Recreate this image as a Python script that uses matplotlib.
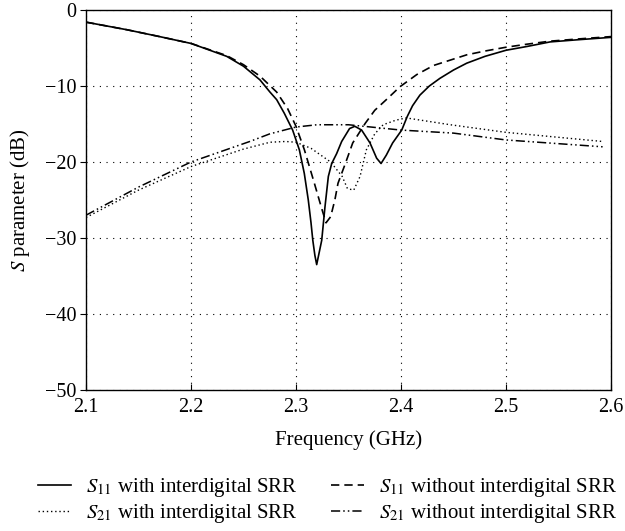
import matplotlib
matplotlib.use('Agg')
import matplotlib.pyplot as plt

plt.rcParams['font.family'] = ['Liberation Serif', 'DejaVu Serif']
plt.rcParams['mathtext.fontset'] = 'stix'

# S11 with interdigital SRR (solid)
f_s11_with = [2.10, 2.139, 2.170, 2.20, 2.234, 2.25, 2.2657, 2.2752, 2.2816, 2.2889,
              2.2968, 2.3032, 2.3079, 2.3117, 2.3143, 2.316, 2.318, 2.3197, 2.3215,
              2.3245, 2.3276, 2.3308, 2.334, 2.3387, 2.3435, 2.351, 2.356, 2.3625,
              2.3705, 2.3768, 2.381, 2.386, 2.392, 2.4007, 2.406, 2.411, 2.418, 2.427,
              2.437, 2.45, 2.4626, 2.48, 2.50, 2.52, 2.542, 2.57, 2.60]
s11_with = [-1.6, -2.6, -3.5, -4.4, -6.1, -7.4, -9.2, -10.8, -11.8, -13.6,
            -15.8, -18.4, -21.5, -25.0, -28.0, -30.3, -32.3, -33.5, -32.3,
            -30.3, -25.9, -21.9, -20.2, -18.9, -17.3, -15.6, -15.3, -15.8,
            -17.5, -19.5, -20.2, -19.1, -17.5, -15.8, -14.0, -12.6, -11.2, -10.0,
            -9.0, -7.9, -7.0, -6.1, -5.3, -4.8, -4.2, -3.9, -3.6]

# S11 without interdigital SRR (dashed)
f_s11_wo = [2.10, 2.139, 2.170, 2.20, 2.234, 2.25, 2.2657, 2.2816, 2.2921, 2.300,
            2.308, 2.3175, 2.324, 2.3286, 2.333, 2.337, 2.34, 2.347, 2.354, 2.366,
            2.375, 2.386, 2.399, 2.415, 2.431, 2.4626, 2.48, 2.50, 2.52, 2.542, 2.57, 2.60]
s11_wo = [-1.6, -2.6, -3.5, -4.4, -6.0, -7.2, -8.7, -10.8, -13.0, -15.3,
          -18.4, -22.8, -25.9, -28.0, -27.2, -25.0, -22.8, -20.2, -17.5, -14.9,
          -13.2, -11.8, -10.1, -8.5, -7.3, -5.9, -5.4, -4.9, -4.5, -4.1, -3.8, -3.5]

# S21 with interdigital SRR (dotted)
f_s21_with = [2.10, 2.15, 2.20, 2.25, 2.2752, 2.29, 2.30, 2.3143, 2.333, 2.344,
              2.349, 2.355, 2.361, 2.367, 2.375, 2.383, 2.395, 2.405, 2.447, 2.50, 2.592]
s21_with = [-27.3, -23.7, -20.6, -18.3, -17.4, -17.3, -17.4, -18.2, -20.0, -21.9,
            -23.5, -23.7, -21.9, -18.4, -16.3, -15.1, -14.5, -14.2, -15.1, -16.1, -17.3]

# S21 without interdigital SRR (dash-dot-dot)
f_s21_wo = [2.10, 2.15, 2.20, 2.256, 2.275, 2.30, 2.32, 2.35, 2.40, 2.45, 2.50, 2.592]
s21_wo = [-27.0, -23.3, -20.0, -17.3, -16.3, -15.4, -15.1, -15.1, -15.8, -16.2, -17.1, -18.0]

fig = plt.figure(figsize=(6.25, 5.31), dpi=100)
ax = fig.add_axes([0.1376, 0.2655, 0.8400, 0.7157])

l1, = ax.plot(f_s11_with, s11_with, color='black', lw=1.2, linestyle='-')
l2, = ax.plot(f_s21_with, s21_with, color='black', lw=1.0, linestyle=(0, (1, 2)))
l3, = ax.plot(f_s11_wo, s11_wo, color='black', lw=1.2, linestyle=(0, (5, 3)))
l4, = ax.plot(f_s21_wo, s21_wo, color='black', lw=1.1, linestyle=(0, (6, 2, 1, 2, 1, 2)))

ax.set_xlim(2.1, 2.6)
ax.set_ylim(-50, 0)
ax.set_xticks([2.1, 2.2, 2.3, 2.4, 2.5, 2.6])
ax.set_yticks([0, -10, -20, -30, -40, -50])
ax.set_xticklabels(['2.1', '2.2', '2.3', '2.4', '2.5', '2.6'])
ax.set_yticklabels(['0', '\u221210', '\u221220', '\u221230', '\u221240', '\u221250'])
ax.tick_params(axis='x', direction='in', length=4, width=0.8, labelsize=14.5, pad=6)
ax.tick_params(axis='y', direction='out', length=4, width=0.8, labelsize=14.5, pad=3)
ax.grid(True, color='black', linestyle=(0, (1, 5)), linewidth=0.8)
for sp in ax.spines.values():
    sp.set_linewidth(1.0)

ax.set_xlabel('Frequency (GHz)', fontsize=15, labelpad=9)
ax.set_ylabel('$S$ parameter (dB)', fontsize=15, labelpad=9)

fig.legend([l1, l2, l3, l4],
           ['$S_{11}$ with interdigital SRR', '$S_{21}$ with interdigital SRR',
            '$S_{11}$ without interdigital SRR', '$S_{21}$ without interdigital SRR'],
           ncol=2, loc='upper left', bbox_to_anchor=(38 / 625, 1 - 476 / 531),
           frameon=False, borderpad=0, borderaxespad=0,
           fontsize=15, handlelength=1.6, columnspacing=1.6, labelspacing=0.15,
           handletextpad=0.7)

fig.savefig('out.png', dpi=100)
